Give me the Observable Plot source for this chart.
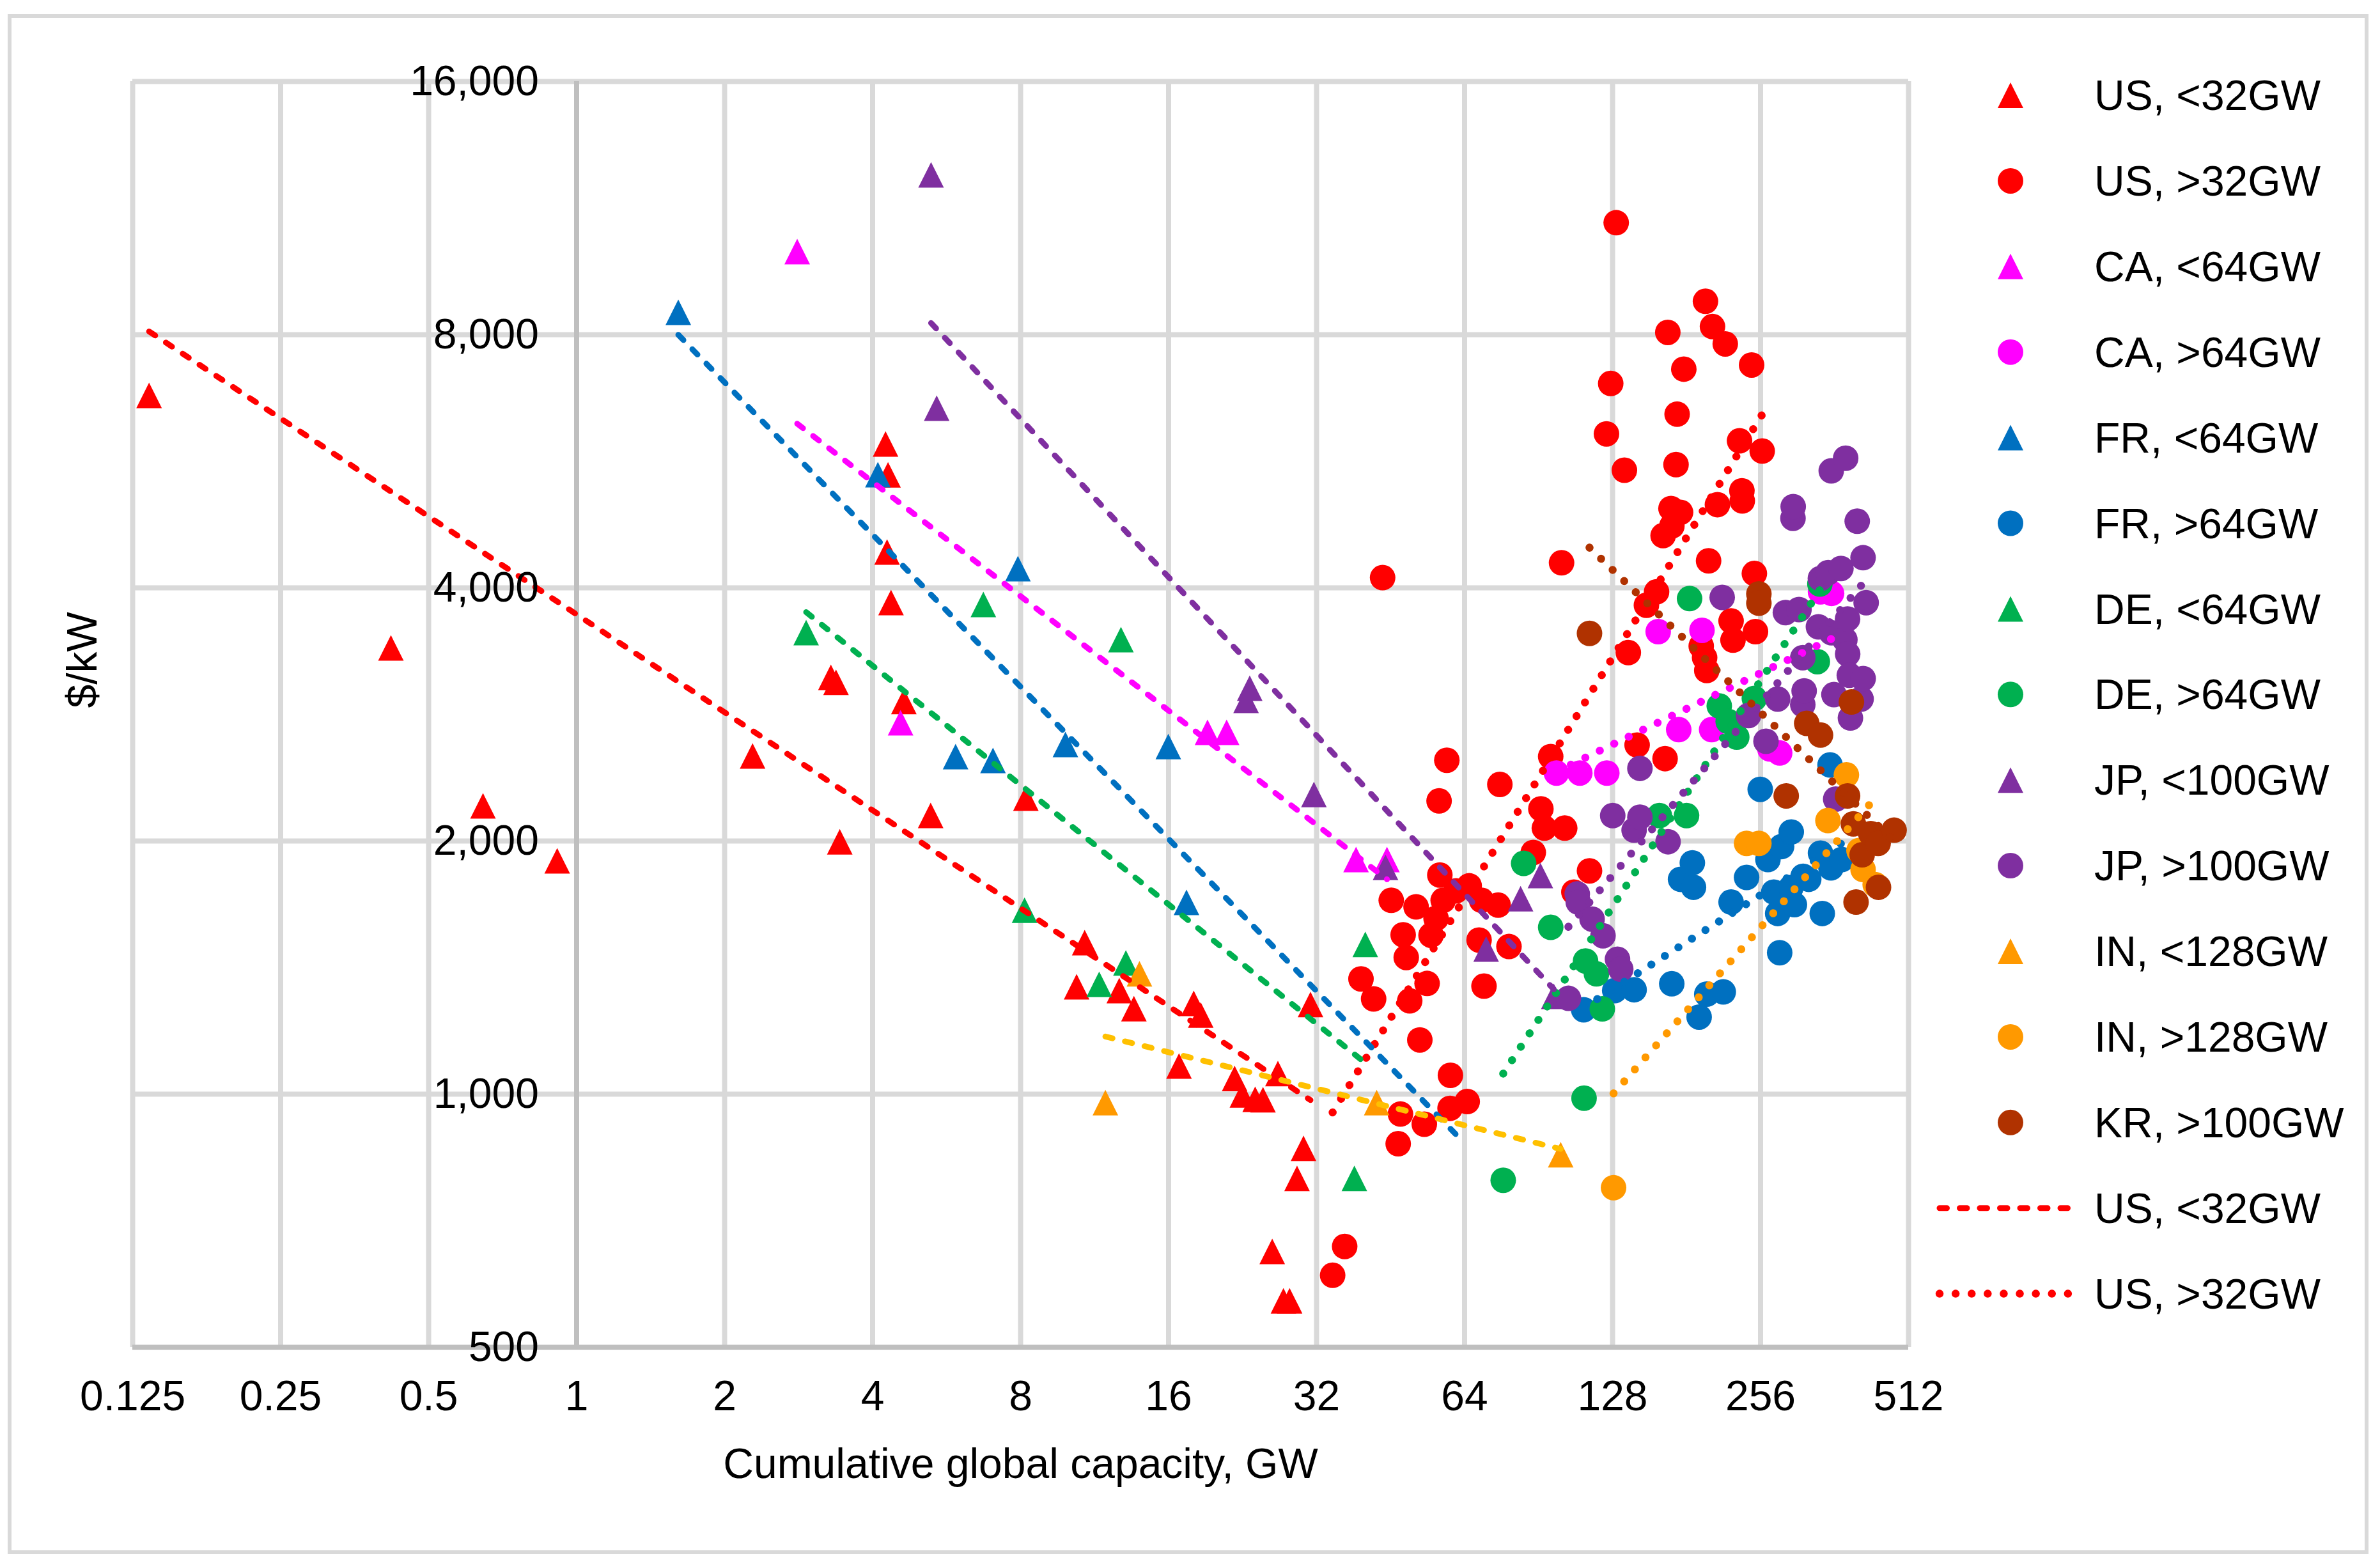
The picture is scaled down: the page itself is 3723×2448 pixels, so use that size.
<!DOCTYPE html>
<html><head><meta charset="utf-8">
<script src="https://cdn.jsdelivr.net/npm/d3@7"></script>
<script src="https://cdn.jsdelivr.net/npm/@observablehq/plot@0.6"></script>
<style>
html,body{margin:0;padding:0;background:#fff;}
#wrap{position:relative;width:3723px;height:2448px;overflow:hidden;font-family:"Liberation Sans",Arial,sans-serif;background:#fff;}
#frame{position:absolute;left:12px;top:22px;width:3693px;height:2409px;border:6px solid #D9D9D9;box-sizing:border-box;}
#chart{position:absolute;left:0;top:0;}
#legend{position:absolute;left:0;top:0;}
</style></head><body>
<div id="wrap"><div id="frame"></div><div id="chart"></div><svg id="legend" width="3723" height="2448"></svg></div>
<script>
// ---- tick values ----
const xTicks = [0.125, 0.25, 0.5, 1, 2, 4, 8, 16, 32, 64, 128, 256, 512];
const yTicks = [500, 1000, 2000, 4000, 8000, 16000];
const yAxisCrossesAt = 1;
const xTitle = "Cumulative global capacity, GW";
const yTitle = "$/kW";

// ---- series: [cumulative GW, $/kW] ----
const usLow = [[0.135,6774],[0.419,3393],[0.645,2202],[0.913,1894],[2.28,2524],[3.29,3130],[3.37,3088],[3.43,1996],[4.25,5930],[4.30,5450],[4.28,4411],[4.36,3842],[4.63,2930],[5.25,2145],[8.20,2249],[10.8,1514],[10.4,1342],[12.7,1328],[13.6,1264],[16.8,1080],[18.0,1282],[18.6,1242],[21.8,1044],[22.6,998],[24.0,986],[24.9,985],[26.0,650],[26.7,1058],[27.4,568],[28.2,568],[29.2,794],[30.1,862],[31.1,1278]];
const usHigh = [[34.5,609],[36.5,659],[39.4,1371],[41.8,1298],[43.6,4113],[45.4,1700],[46.9,873],[47.4,947],[48.0,1547],[48.7,1454],[49.5,1291],[51.0,1670],[51.9,1160],[53.0,921],[53.7,1354],[54.7,1545],[56.0,1618],[56.8,2232],[57.0,1822],[57.9,1700],[58.9,2495],[59.8,962],[59.9,1053],[61.5,1745],[64.8,980],[65.4,1769],[68.5,1525],[69.3,1700],[70.1,1344],[74.9,1678],[75.5,2335],[78.8,1498],[88.3,1938],[91.5,2184],[93.0,2072],[95.8,2520],[100.8,4284],[102.3,2072],[106.8,1739],[114.9,1843],[124.4,6097],[126.9,7000],[130.2,10870],[135.3,5520],[137.8,3350],[143.6,2601],[150,3814],[157.3,3956],[162.2,4615],[163.7,2506],[165.8,8050],[168.3,4970],[169,4738],[172.3,5605],[173.2,6435],[176,4918],[178.7,7280],[193.9,3410],[197,3304],[197.8,8765],[199,3190],[200.7,4307],[204.4,8180],[209.2,5023],[217,7800],[223,3653],[225,3466],[232,5982],[234.6,5217],[235,5075],[245.5,7362],[248.7,4160],[250,3548],[258,5817]];
const caLow = [[2.81,10044],[4.56,2765],[19.2,2693],[21.0,2693],[38.5,1901],[44.5,1901]];
const caHigh = [[98.4,2409],[109.8,2409],[124.6,2409],[158.5,3548],[174.5,2713],[194.6,3561],[203.6,2713],[267.4,2573],[280,2545],[339,3956],[357,3940]];
const frLow = [[1.61,8505],[4.10,5453],[5.90,2520],[7.03,2493],[7.90,4216],[9.87,2605],[15.98,2590],[17.4,1691]];
const frHigh = [[111.8,1260],[129.3,1328],[141.6,1331],[168.9,1353],[176,1801],[186,1884],[187,1762],[192,1235],[199,1315],[215,1323],[223,1692],[239.8,1810],[255.6,2304],[265,1901],[272.4,1739],[277.4,1640],[280,1473],[282.5,1970],[295,1760],[295.6,2050],[300,1680],[312.5,1816],[320.8,1801],[339,1935],[341.8,1640],[354.5,2463],[356,1858],[374.5,1901]];
const deLow = [[2.93,3538],[6.72,3822],[8.15,1655],[11.56,1351],[12.8,3471],[13.1,1432],[38.2,794],[40.2,1507]];
const deHigh = [[76.7,790],[84.4,1881],[95.8,1579],[112,989],[112.8,1440],[118.7,1390],[122,1263],[159.4,2144],[181,2144],[183.6,3884],[211,2895],[220,2774],[229,2658],[248.7,2955],[334,3268],[338,4042]];
const jpLow = [[5.26,12390],[5.40,6541],[23.0,2940],[23.4,3039],[31.6,2272],[44.2,1861],[70.8,1488],[83.2,1708],[91.3,1820],[97.2,1307]];
const jpHigh = [[104.1,1300],[108.5,1730],[109,1692],[116.3,1615],[122.4,1543],[128.1,2144],[131,1447],[133,1408],[141.6,2060],[145.5,2135],[145.5,2440],[166,1996],[213.9,3897],[242,2820],[262.6,2628],[277.4,2950],[287.6,3738],[298,4839],[298.3,4996],[306.5,3769],[312,3304],[312,2905],[314,3017],[335.7,3595],[338.8,4103],[351.4,4170],[356.5,5510],[357,3537],[361,2986],[364,2243],[373,4218],[380,3470],[381.4,5704],[384.8,3673],[385,3337],[388,3148],[390,2801],[402.6,4800],[410,2950],[413.8,4344],[414,3120],[419.8,3841]];
const inLow = [[11.9,977],[13.96,1390],[42.4,977],[100.4,847]];
const inHigh = [[128.6,774],[239.8,1987],[254,1987],[351,2115],[382.7,2397],[406,1948],[413.8,1850],[438,1775]];
const krHigh = [[114.9,3531],[254,3934],[254,3835],[288.7,2263],[317.8,2760],[339,2673],[384.8,2263],[391.8,2926],[395.4,2096],[400.4,1692],[412,1926],[429,2041],[444,1987],[444.8,1762],[478.5,2060]];

const seriesNames = ["US, <32GW","US, >32GW","CA, <64GW","CA, >64GW","FR, <64GW","FR, >64GW","DE, <64GW","DE, >64GW","JP, <100GW","JP, >100GW","IN, <128GW","IN, >128GW","KR, >100GW"];
const seriesData = [usLow, usHigh, caLow, caHigh, frLow, frHigh, deLow, deHigh, jpLow, jpHigh, inLow, inHigh, krHigh];
const legendTrendNames = ["US, <32GW", "US, >32GW"];
// Excel trendline forward forecast (GW past last point)
const trendForward = {"FR, <64GW": 44.4};

// ---- styles ----
const colors = {US:"#FF0000", CA:"#FF00FF", FR:"#0070C0", DE:"#00B050", JP:"#7F2FA0", IN:"#FF9900", KR:"#B03200"};
const trendColorOverride = {"IN, <128GW": "#FFC000"};
const R = 20;
const FONT = 66;
const dashStyle = {strokeWidth: 9, strokeDasharray: "11.5,20", strokeLinecap: "round"};
const dotStyle = {strokeWidth: 12.5, strokeDasharray: "0.1,25", strokeLinecap: "round"};
const triangle = {draw(ctx, size) { const r = Math.sqrt(size / Math.PI); ctx.moveTo(0, -r); ctx.lineTo(r, r); ctx.lineTo(-r, r); ctx.closePath(); }};

const colorOf = name => colors[name.slice(0, 2)];
const isLow = name => name.includes("<");

function powerFit(pts) {
  const u = pts.map(p => Math.log2(p[0])), v = pts.map(p => Math.log2(p[1]));
  const mu = d3.mean(u), mv = d3.mean(v);
  const b = d3.sum(u, (ui, i) => (ui - mu) * (v[i] - mv)) / d3.sum(u, ui => (ui - mu) ** 2);
  const a = mv - b * mu;
  return x => 2 ** (a + b * Math.log2(x));
}

const dotMarks = seriesData.map((pts, i) => {
  const name = seriesNames[i];
  return Plot.dot(pts, {x: d => d[0], y: d => d[1], r: R, fill: colorOf(name), stroke: "none", symbol: isLow(name) ? triangle : "circle"});
});

const trendMarks = seriesData.map((pts, i) => {
  const name = seriesNames[i];
  const f = powerFit(pts);
  const x0 = d3.min(pts, p => p[0]);
  const x1 = d3.max(pts, p => p[0]) + (trendForward[name] || 0);
  const line = [x0, x1].map(x => [x, f(x)]);
  return Plot.line(line, {x: d => d[0], y: d => d[1], stroke: trendColorOverride[name] || colorOf(name), ...(isLow(name) ? dashStyle : dotStyle)});
});

const chart = Plot.plot({
  width: 3723, height: 2448,
  marginLeft: 207, marginRight: 738, marginTop: 127, marginBottom: 341,
  style: {fontFamily: '"Liberation Sans", Arial, sans-serif', fontSize: FONT + "px", background: "transparent", color: "#000", overflow: "visible"},
  x: {type: "log", base: 2, domain: [0.125, 512], axis: null},
  y: {type: "log", base: 2, domain: [500, 16000], axis: null},
  marks: [
    Plot.ruleY(yTicks.filter(d => d !== 500), {y: d => d, stroke: "#D9D9D9", strokeWidth: 8}),
    Plot.ruleX(xTicks.filter(d => d !== yAxisCrossesAt), {x: d => d, stroke: "#D9D9D9", strokeWidth: 8}),
    Plot.ruleX([yAxisCrossesAt], {x: d => d, stroke: "#BFBFBF", strokeWidth: 8}),
    Plot.ruleY([500], {y: d => d, stroke: "#BFBFBF", strokeWidth: 8}),
    ...dotMarks,
    ...trendMarks,
    Plot.text(yTicks, {x: () => yAxisCrossesAt, y: d => d, text: d => d3.format(",")(d), textAnchor: "end", lineAnchor: "middle", dx: -59, fontSize: FONT, fill: "#000"}),
    Plot.text(xTicks, {x: d => d, y: () => 500, text: d => String(d), textAnchor: "middle", lineAnchor: "middle", dy: 77, fontSize: FONT, fill: "#000"}),
    Plot.text([xTitle], {frameAnchor: "bottom", text: d => d, lineAnchor: "bottom", dy: 204, fontSize: FONT, fill: "#000"}),
    Plot.text([yTitle], {frameAnchor: "left", text: d => d, rotate: -90, lineAnchor: "middle", dx: -78, dy: -10, fontSize: FONT, fill: "#000"})
  ]
});
document.getElementById("chart").appendChild(chart);

// ---- legend ----
const lg = d3.select("#legend");
const legendItems = seriesNames.map(n => ({name: n, kind: isLow(n) ? "tri" : "circ"}))
  .concat(legendTrendNames.map(n => ({name: n, kind: isLow(n) ? "dash" : "dot"})));
const rowY = i => 149 + 133.9 * i;
const markX = 3145, textX = 3276, lineX0 = 3034, lineX1 = 3254;
legendItems.forEach((it, i) => {
  const y = rowY(i), c = colorOf(it.name);
  if (it.kind === "tri") {
    lg.append("path").attr("d", `M${markX},${y - R}L${markX + R},${y + R}L${markX - R},${y + R}Z`).attr("fill", c);
  } else if (it.kind === "circ") {
    lg.append("circle").attr("cx", markX).attr("cy", y).attr("r", R).attr("fill", c);
  } else {
    const st = it.kind === "dash" ? dashStyle : dotStyle;
    lg.append("line").attr("x1", lineX0).attr("x2", lineX1).attr("y1", y).attr("y2", y)
      .attr("stroke", c).attr("stroke-width", st.strokeWidth).attr("stroke-dasharray", st.strokeDasharray).attr("stroke-linecap", "round");
  }
  lg.append("text").attr("x", textX).attr("y", y).attr("dy", "0.35em")
    .attr("font-family", '"Liberation Sans", Arial, sans-serif').attr("font-size", FONT).attr("fill", "#000").text(it.name);
});
</script></body></html>
